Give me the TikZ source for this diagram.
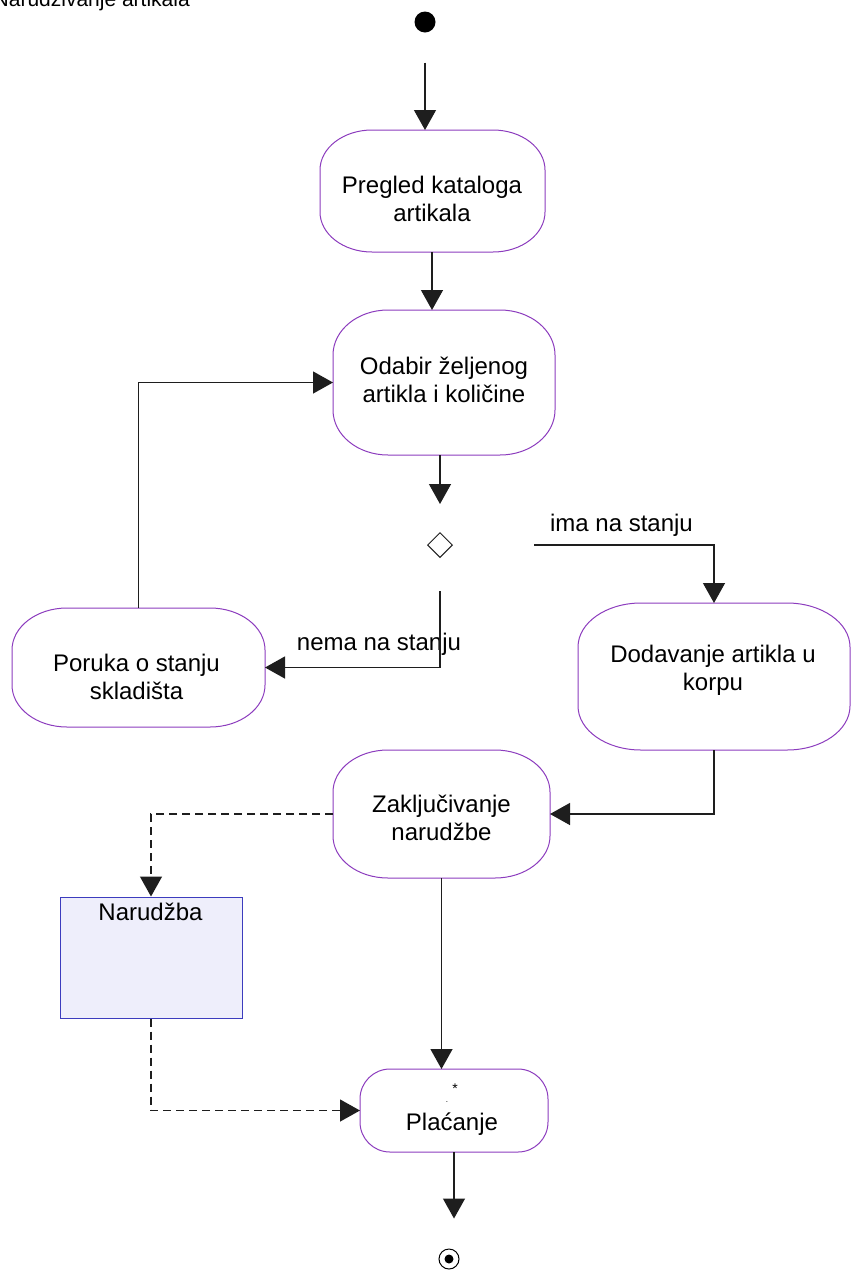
\documentclass[tikz,border=0pt]{standalone}
\usepackage{fontspec}
\setmainfont{Liberation Sans}
\usetikzlibrary{arrows.meta,calc,shapes.geometric}
\definecolor{actpurple}{RGB}{140,60,190}
\definecolor{objfill}{RGB}{238,238,251}
\definecolor{objline}{RGB}{60,60,190}
\definecolor{lineblk}{RGB}{30,30,30}
\tikzset{
  boxanchor/.style={inner sep=0pt,outer sep=0pt,draw=none},
  actline/.style={draw=actpurple,line width=1pt},
  acttext/.style={align=center,inner sep=0pt,font=\fontsize{24}{28}\selectfont},
  lbl/.style={inner sep=0pt,font=\fontsize{24}{28}\selectfont},
  arr/.style={draw=lineblk,line width=1.3pt,-{Triangle[width=22pt,length=20pt]}},
  dsh/.style={dash pattern=on 8pt off 5pt},
}
% elliptical-cornered activity box: name, cx, cy, w, h, rx, ry
\newcommand\actbox[7]{%
  \node[boxanchor,minimum width=#4pt,minimum height=#5pt] (#1) at (#2,#3) {};
  \draw[actline,fill=white]
    ($(#1.north west)+(#6pt,0pt)$) -- ($(#1.north east)+(-#6pt,0pt)$)
    arc[start angle=90,end angle=0,x radius=#6pt,y radius=#7pt]
    -- ($(#1.south east)+(0pt,#7pt)$)
    arc[start angle=0,end angle=-90,x radius=#6pt,y radius=#7pt]
    -- ($(#1.south west)+(#6pt,0pt)$)
    arc[start angle=-90,end angle=-180,x radius=#6pt,y radius=#7pt]
    -- ($(#1.north west)+(0pt,-#7pt)$)
    arc[start angle=180,end angle=90,x radius=#6pt,y radius=#7pt]
    -- cycle;}
\begin{document}
\begin{tikzpicture}[x=1pt,y=-1pt]
\useasboundingbox (0,0) rectangle (851,1270);

% title (cut at top edge, as in the reference)
\node[anchor=base east,inner sep=0pt,font=\fontsize{21}{25}\selectfont] (title) at (190,6) {Narudživanje artikala};

% initial and final nodes
\node[circle,fill=black,minimum size=21pt,inner sep=0pt] (init) at (425,22) {};
\node[circle,draw=black,line width=1pt,minimum size=20pt,inner sep=0pt] (fin) at (449,1259) {};
\node[circle,fill=black,minimum size=9pt,inner sep=0pt] (findot) at (fin) {};

% activity boxes
\actbox{preg}{432.5}{191}{225}{122}{52}{40}
\node[acttext] (pregT) at (432,198.5) {Pregled kataloga\\artikala};

\actbox{oda}{444}{382.5}{222}{145}{55}{45}
\node[acttext] (odaT) at (444,380) {Odabir željenog\\artikla i količine};

\actbox{por}{138.5}{667.5}{253}{119}{55}{42}
\node[acttext] (porT) at (136.5,676.5) {Poruka o stanju\\skladišta};

\actbox{dod}{714}{676.5}{272}{147}{63}{44}
\node[acttext] (dodT) at (713,670) {Dodavanje artikla u\\korpu};

\actbox{zak}{441.5}{814}{217}{128}{55}{42}
\node[acttext] (zakT) at (441.5,818) {Zaključivanje\\narudžbe};

\actbox{pla}{454}{1110.5}{188}{83}{30}{30}
\node[lbl,anchor=base] (plaT) at (452,1130) {Plaćanje};
\node[inner sep=0pt,font=\fontsize{14}{16}\selectfont] (plaStar) at (455,1089) {*};
\node[inner sep=0pt,font=\fontsize{8}{10}\selectfont,anchor=base] (plaDot) at (447,1102) {.};

% decision
\node[diamond,draw=lineblk,line width=1pt,minimum size=25pt,inner sep=0pt] (dec) at (440,545) {};

% object node
\node[draw=objline,fill=objfill,line width=1pt,minimum width=182pt,minimum height=121pt,inner sep=0pt] (nar) at (151,957.5) {};
\node[lbl,anchor=base] (narT) at (150.5,920) {Narudžba};

% labels
\node[lbl,anchor=base] (ima) at (621.5,531) {ima na stanju};
\node[lbl,anchor=base] (nema) at (379,650) {nema na stanju};

% connectors
\draw[arr,shorten <=30pt] (init) -- (init |- preg.north);
\draw[arr] (preg.south -| pregT) -- (pregT |- oda.north);
\draw[arr,shorten >=28pt] (oda.south -| dec) -- (dec.north);
\draw[arr,shorten <=81pt] (dec.east) -| (dod.north);
\draw[arr,shorten <=33pt] (dec.south) |- (por.east);
\draw[arr] (por.north) |- (oda.west);
\draw[arr] (dod.south) |- (zak.east);
\draw[arr,dsh] (zak.west) -| (nar.north);
\draw[arr,dsh] (nar.south) |- (pla.west);
\draw[arr] (zak.south) -- (zak.south |- pla.north);
\draw[arr,shorten >=30pt] (pla.south) -- (pla.south |- fin.north);
\end{tikzpicture}
\end{document}
